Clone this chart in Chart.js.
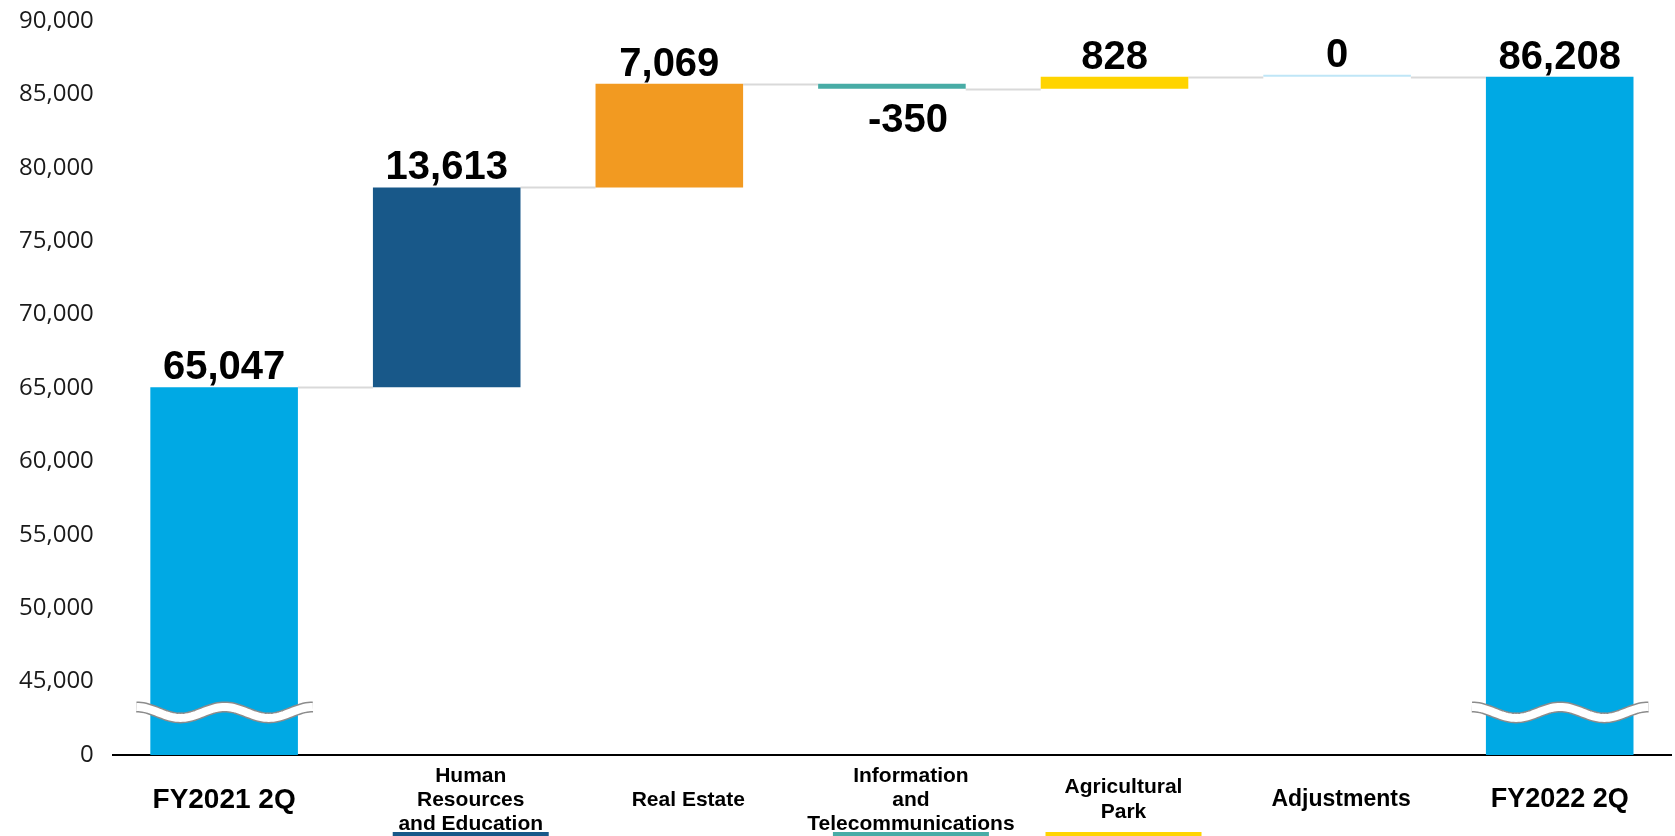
<!DOCTYPE html>
<html>
<head>
<meta charset="utf-8">
<script src="https://cdn.jsdelivr.net/npm/chart.js@4.4.0/dist/chart.umd.min.js"></script>
<style>
  html, body { margin: 0; padding: 0; background: #fff; }
  #wrap { width: 1675px; height: 836px; }
</style>
</head>
<body>
<div id="wrap"><canvas id="bridge" width="1675" height="836"></canvas></div>
<script>
// segments of the bridge, left to right
const categories = [
  ['FY2021 2Q'],
  ['Human', 'Resources', 'and Education'],
  ['Real Estate'],
  ['Information', 'and', 'Telecommunications'],
  ['Agricultural', 'Park'],
  ['Adjustments'],
  ['FY2022 2Q']
];
const changes = [65047, 13613, 7069, -350, 828, 0, 86208];
const isTotal = [true, false, false, false, false, false, true];

// broken axis: the bottom tick stands for 0
const yTickValues = [40000, 45000, 50000, 55000, 60000, 65000, 70000, 75000, 80000, 85000, 90000];
const yTickLabels = ['0', '45,000', '50,000', '55,000', '60,000', '65,000', '70,000', '75,000', '80,000', '85,000', '90,000'];

// styling
const barColors = ['#00a9e4', '#185889', '#f29a21', '#48aca6', '#ffd400', '#bfe6f7', '#00a9e4'];
const underlined = [false, true, false, true, true, false, false];
const labelNudge = [0, 24, 19, 19, 9, 4, 0];
const labelSize = [28, 21, 21, 21, 21, 23, 27];
const valueNudge = [0, 0, 0, 16, 0, 0, 0];
const BREAK_VALUE = 42900;
const FONT = '"Liberation Sans", Arial, sans-serif';

// floating [start, end] for every bar
let running = 0;
const floating = changes.map((v, i) => {
  if (isTotal[i]) { running = v; return [0, v]; }
  const start = running;
  running += v;
  return [start, running];
});

function fmt(v) {
  return v.toLocaleString('en-US');
}

const bridgeDecor = {
  id: 'bridgeDecor',
  beforeDatasetsDraw(chart) {
    // grey connectors at the running level between neighbours
    const { ctx, scales: { y } } = chart;
    const meta = chart.getDatasetMeta(0);
    ctx.save();
    ctx.strokeStyle = '#d9d9d9';
    ctx.lineWidth = 2;
    for (let i = 0; i < meta.data.length - 1; i++) {
      const a = meta.data[i].getProps(['x', 'width'], true);
      const b = meta.data[i + 1].getProps(['x', 'width'], true);
      const ly = Math.round(y.getPixelForValue(floating[i][1])) + 0.5;
      ctx.beginPath();
      ctx.moveTo(a.x + a.width / 2, ly);
      ctx.lineTo(b.x - b.width / 2, ly);
      ctx.stroke();
    }
    ctx.restore();
  },
  afterDatasetsDraw(chart) {
    const { ctx, scales: { y } } = chart;
    const meta = chart.getDatasetMeta(0);
    ctx.save();

    // wavy break across the total bars
    const wy = y.getPixelForValue(BREAK_VALUE);
    meta.data.forEach((bar, i) => {
      if (!isTotal[i]) return;
      const { x, width } = bar.getProps(['x', 'width'], true);
      const x0 = x - width / 2 - 14;
      const w = width + 29;
      const wave = () => {
        ctx.beginPath();
        for (let s = 0; s <= 80; s++) {
          const t = s / 80;
          const py = wy - 5.5 * Math.cos(4 * Math.PI * t);
          if (s === 0) ctx.moveTo(x0 + t * w, py); else ctx.lineTo(x0 + t * w, py);
        }
      };
      ctx.lineCap = 'butt';
      wave();
      ctx.strokeStyle = '#8c8c8c';
      ctx.lineWidth = 11;
      ctx.stroke();
      wave();
      ctx.strokeStyle = '#ffffff';
      ctx.lineWidth = 8;
      ctx.stroke();
    });

    // value labels
    ctx.fillStyle = '#000';
    ctx.font = 'bold 40px ' + FONT;
    ctx.textAlign = 'center';
    ctx.textBaseline = 'alphabetic';
    meta.data.forEach((bar, i) => {
      const { x, y: py, base } = bar.getProps(['x', 'y', 'base'], true);
      const lx = x + valueNudge[i];
      if (changes[i] < 0) {
        ctx.fillText(fmt(changes[i]), lx, Math.max(py, base) + 43);
      } else {
        ctx.fillText(fmt(changes[i]), lx, Math.min(py, base) - 8);
      }
    });
    ctx.restore();
  },
  afterDraw(chart) {
    // category labels under the axis
    const { ctx, chartArea, scales: { x } } = chart;
    ctx.save();
    ctx.fillStyle = '#000';
    ctx.textAlign = 'center';
    ctx.textBaseline = 'middle';
    const cy = chartArea.bottom + 45;
    categories.forEach((lines, i) => {
      const cx = x.getPixelForValue(i) + labelNudge[i];
      ctx.font = 'bold ' + labelSize[i] + 'px ' + FONT;
      const lh = lines.length === 2 ? 25 : 24;
      lines.forEach((ln, k) => {
        ctx.fillText(ln, cx, cy + (k - (lines.length - 1) / 2) * lh);
      });
      if (underlined[i]) {
        ctx.fillStyle = barColors[i];
        ctx.fillRect(cx - 78, 832, 156, 4);
        ctx.fillStyle = '#000';
      }
    });
    ctx.restore();
  }
};

new Chart(document.getElementById('bridge'), {
  type: 'bar',
  data: {
    labels: categories,
    datasets: [{
      data: floating,
      backgroundColor: barColors,
      borderWidth: 0,
      barPercentage: 0.663,
      categoryPercentage: 1,
      minBarLength: 2,
      clip: 0
    }]
  },
  options: {
    responsive: false,
    animation: false,
    devicePixelRatio: 1,
    layout: { padding: { left: 0, top: 21, right: 4, bottom: 81 } },
    plugins: {
      legend: { display: false },
      tooltip: { enabled: false }
    },
    scales: {
      x: {
        grid: { display: false, drawTicks: false },
        border: { display: true, color: '#000', width: 2 },
        ticks: { display: false }
      },
      y: {
        min: 40000,
        max: 90000,
        afterBuildTicks: (scale) => {
          scale.ticks = yTickValues.map((v) => ({ value: v }));
        },
        afterFit: (scale) => {
          // let the layout padding alone decide the plot top
          scale.paddingTop = 0;
          scale.paddingBottom = 0;
        },
        grid: { display: false, drawTicks: false },
        border: { display: false },
        ticks: {
          padding: 19,
          color: '#1a1a1a',
          font: { family: '"Open Sans", "Noto Sans", sans-serif', size: 24 },
          callback: (v, i) => yTickLabels[i]
        }
      }
    }
  },
  plugins: [bridgeDecor]
});
</script>
</body>
</html>
